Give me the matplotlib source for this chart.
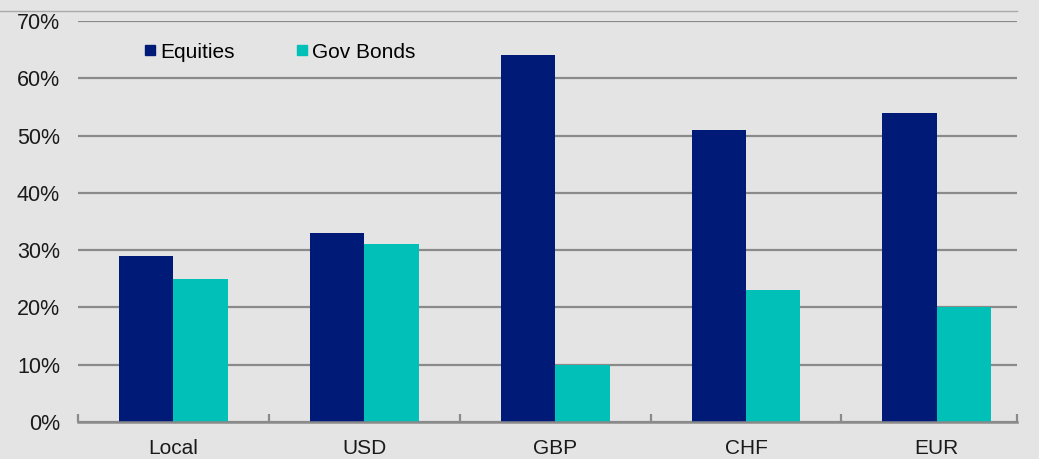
import matplotlib
matplotlib.use("Agg")
import matplotlib.pyplot as plt
import numpy as np
from matplotlib.lines import Line2D
from matplotlib.ticker import PercentFormatter

plt.rcParams["font.family"] = ["Liberation Sans", "DejaVu Sans"]

categories = ["Local", "USD", "GBP", "CHF", "EUR"]
equities = [29, 33, 64, 51, 54]
gov_bonds = [25, 31, 10, 23, 20]

navy = "#001a78"
teal = "#00c0b8"
bg = "#e4e4e4"
grid_col = "#8a8a8a"

fig = plt.figure(figsize=(10.39, 4.59), dpi=100, facecolor=bg)
ax = fig.add_axes([78 / 1039, 1 - 422 / 459, (1017 - 78) / 1039, (422 - 21) / 459])
ax.set_facecolor(bg)

x = np.arange(len(categories))
w = 0.285
ax.bar(x - w / 2, equities, w, color=navy, label="Equities", zorder=3)
ax.bar(x + w / 2, gov_bonds, w, color=teal, label="Gov Bonds", zorder=3)

right = len(categories) - 0.58
ax.set_xlim(-0.5, right)
ax.set_ylim(0, 70)
ax.set_yticks(np.arange(0, 71, 10))
ax.yaxis.set_major_formatter(PercentFormatter(decimals=0))
ax.grid(axis="y", color=grid_col, linewidth=1.6, zorder=0)
ax.tick_params(axis="y", length=0, pad=13, labelsize=15.5, labelcolor="#1a1a1a")

# category labels in the middle, ticks on the group boundaries
ax.set_xticks(x)
ax.set_xticklabels(categories)
ax.tick_params(axis="x", length=0, pad=12, labelsize=15, labelcolor="#1a1a1a")
ax.set_xticks(list(np.arange(-0.5, len(categories) - 1, 1)) + [right], minor=True)
ax.tick_params(axis="x", which="minor", direction="in", length=6, width=1.6, color=grid_col)

for side in ["top", "right", "left"]:
    ax.spines[side].set_visible(False)
ax.spines["bottom"].set_color(grid_col)
ax.spines["bottom"].set_linewidth(1.8)
ax.spines["bottom"].set_zorder(4)

handles = [Line2D([], [], marker="s", linestyle="", markersize=7.5, color=navy),
           Line2D([], [], marker="s", linestyle="", markersize=7.5, color=teal)]
ax.legend(handles, ["Equities", "Gov Bonds"], loc="center left",
          bbox_to_anchor=(0.05, 1 - 31 / 401), ncol=2, frameon=False, fontsize=15,
          handlelength=0.6, handletextpad=0.2, columnspacing=2.9)

# separator under the heading
fig.add_artist(Line2D([0, 1017 / 1039], [1 - 10.5 / 459] * 2, color="#aaaaaa", linewidth=1.0))

fig.savefig("out.png", dpi=100, facecolor=bg)
